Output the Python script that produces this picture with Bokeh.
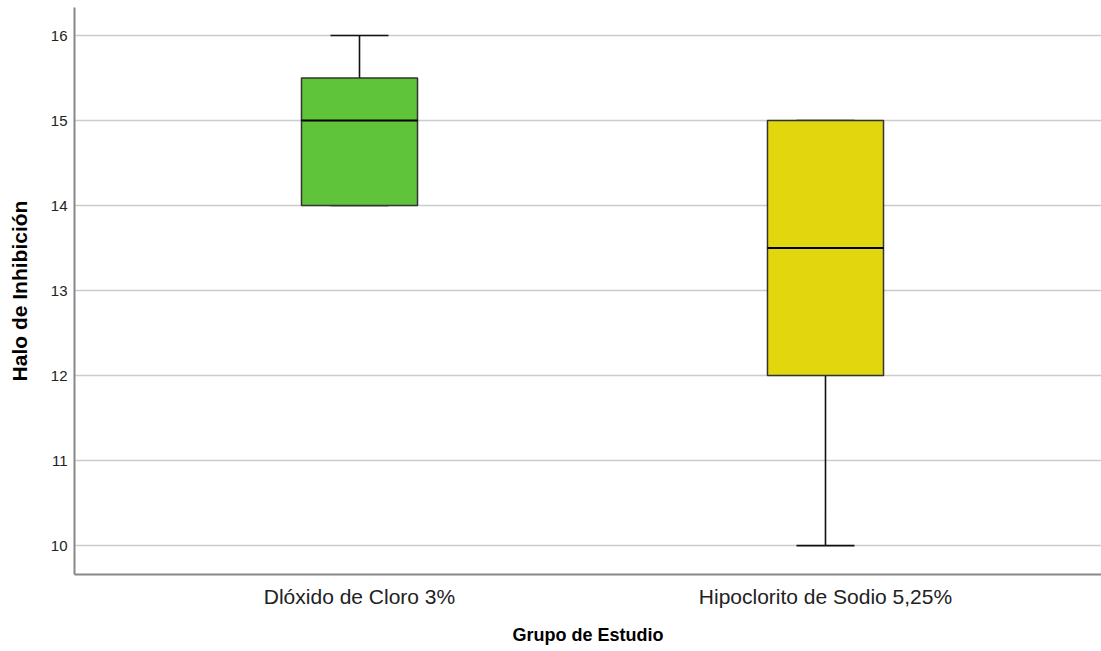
from bokeh.plotting import figure
from bokeh.models import FixedTicker, Range1d, ColumnDataSource
from bokeh.embed import file_html
from bokeh.resources import INLINE

categories = ["Dlóxido de Cloro 3%", "Hipoclorito de Sodio 5,25%"]
positions = [1, 2]
mins = [14, 10]
q1 = [14, 12]
medians = [15, 13.5]
q3 = [15.5, 15]
maxs = [16, 15]
colors = ["#60c43b", "#e2d70f"]
y_ticks = [10, 11, 12, 13, 14, 15, 16]

box_w = 0.249
cap_w = box_w / 2

src = ColumnDataSource(dict(
    x=positions, lo=mins, q1=q1, med=medians, q3=q3, hi=maxs, color=colors,
    left=[p - box_w / 2 for p in positions], right=[p + box_w / 2 for p in positions],
    cl=[p - cap_w / 2 for p in positions], cr=[p + cap_w / 2 for p in positions],
))

p = figure(width=1101, height=651, output_backend="svg", toolbar_location=None,
           x_range=Range1d(0.3884, 2.5923), y_range=Range1d(9.66, 16.33),
           min_border_left=74, min_border_right=0, min_border_top=7, min_border_bottom=77)
p.outline_line_color = None
p.background_fill_color = "white"
p.border_fill_color = "white"

# whiskers
p.segment(x0="x", y0="q3", x1="x", y1="hi", source=src, line_color="#111111", line_width=1.6)
p.segment(x0="x", y0="lo", x1="x", y1="q1", source=src, line_color="#111111", line_width=1.6)
p.segment(x0="cl", y0="hi", x1="cr", y1="hi", source=src, line_color="#111111", line_width=1.6)
p.segment(x0="cl", y0="lo", x1="cr", y1="lo", source=src, line_color="#111111", line_width=1.6)
# boxes
p.quad(left="left", right="right", bottom="q1", top="q3", source=src,
       fill_color="color", line_color="#333333", line_width=1.5)
# medians
p.segment(x0="left", y0="med", x1="right", y1="med", source=src, line_color="#000000", line_width=2)

p.xaxis.ticker = FixedTicker(ticks=positions)
p.xaxis.major_label_overrides = {pos: c for pos, c in zip(positions, categories)}
p.yaxis.ticker = FixedTicker(ticks=y_ticks)

for ax in (p.xaxis, p.yaxis):
    ax.axis_line_color = "#888888"
    ax.axis_line_width = 2
    ax.major_tick_line_color = None
    ax.minor_tick_line_color = None
    ax.axis_label_text_font = "Liberation Sans"
    ax.axis_label_text_font_style = "bold"
    ax.axis_label_text_color = "#000000"
    ax.major_label_text_font = "Liberation Sans"
    ax.major_label_text_color = "#222222"

p.xaxis.axis_label = "Grupo de Estudio"
p.yaxis.axis_label = "Halo de Inhibición"
p.xaxis.axis_label_text_font_size = "18px"
p.yaxis.axis_label_text_font_size = "21px"
p.xaxis.major_label_text_font_size = "21px"
p.yaxis.major_label_text_font_size = "15px"
p.xaxis.major_label_standoff = 4
p.yaxis.major_label_standoff = 1
p.xaxis.axis_label_standoff = 14
p.yaxis.axis_label_standoff = 17

p.xgrid.grid_line_color = None
p.ygrid.grid_line_color = "#cccccc"
p.ygrid.grid_line_width = 1.5

open("out.html", "w").write(file_html(p, INLINE))
